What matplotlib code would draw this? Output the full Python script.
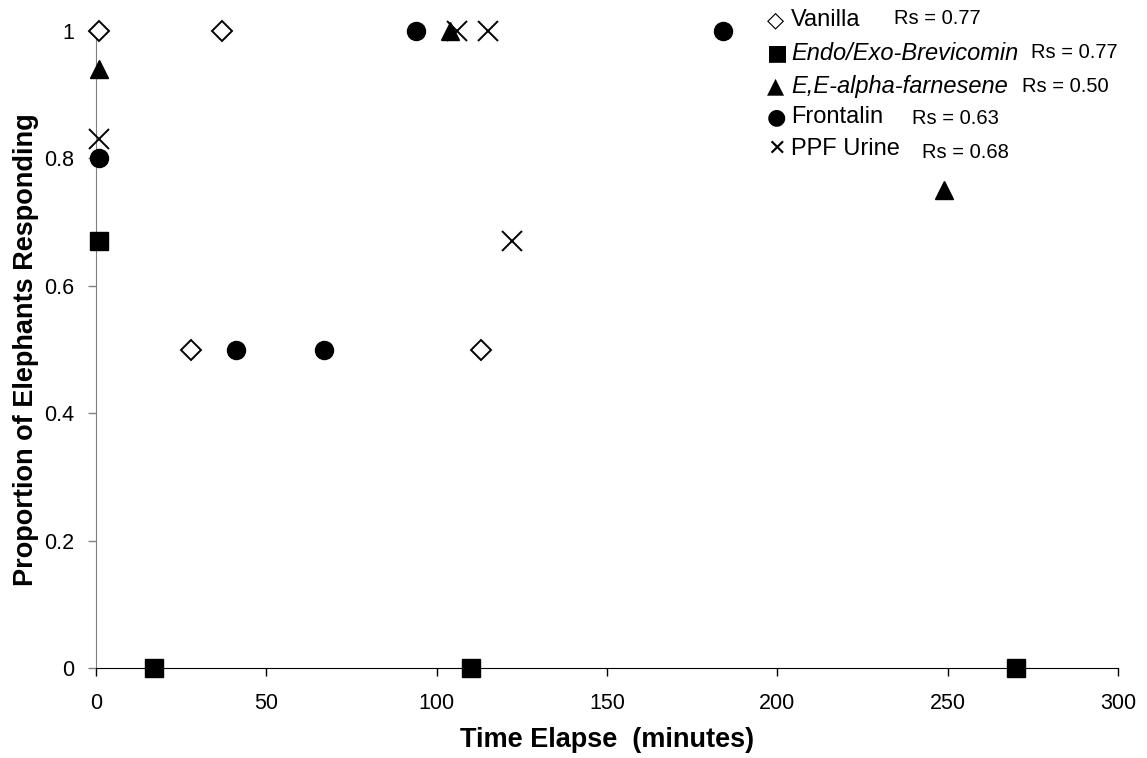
import matplotlib
matplotlib.use("Agg")
import matplotlib.pyplot as plt
from matplotlib.ticker import FuncFormatter

plt.rcParams['font.family'] = ['Liberation Sans', 'DejaVu Sans']

# data
vanilla_x = [1, 37, 28, 113]
vanilla_y = [1, 1, 0.5, 0.5]
endo_x = [1, 17, 110, 270]
endo_y = [0.67, 0, 0, 0]
farn_x = [1, 104, 249]
farn_y = [0.94, 1, 0.75]
front_x = [1, 41, 67, 94, 184]
front_y = [0.8, 0.5, 0.5, 1, 1]
ppf_x = [1, 106, 115, 122]
ppf_y = [0.83, 1, 1, 0.67]

names = ["Vanilla", "Endo/Exo-Brevicomin", "E,E-alpha-farnesene", "Frontalin", "PPF Urine"]
symbols = ["\u25c7", "\u25a0", "\u25b2", "\u25cf", "\u2715"]
italic = [False, True, True, False, False]
rs_vals = ["Rs = 0.77", "Rs = 0.77", "Rs = 0.50", "Rs = 0.63", "Rs = 0.68"]

fig = plt.figure(figsize=(11.47, 7.58), dpi=100)
ax = fig.add_axes([0.0837, 0.1187, 0.891, 0.8403])

kw = dict(linestyle='none', clip_on=False, zorder=3)
ax.plot(vanilla_x, vanilla_y, marker='D', ms=10, mfc='white', mec='black', mew=1.4, **kw)
ax.plot(endo_x, endo_y, marker='s', ms=13, color='black', **kw)
ax.plot(farn_x, farn_y, marker='^', ms=13.5, color='black', **kw)
ax.plot(front_x, front_y, marker='o', ms=13, color='black', **kw)
ax.plot(ppf_x, ppf_y, marker='x', ms=14, mew=1.4, color='black', **kw)

ax.set_xlim(0, 300)
ax.set_ylim(0, 1)
ax.set_xticks(range(0, 301, 50))
ax.set_yticks([0, 0.2, 0.4, 0.6, 0.8, 1])
ax.yaxis.set_major_formatter(FuncFormatter(lambda v, p: f"{v:g}"))
ax.tick_params(axis='both', labelsize=15.5, direction='out', length=6, width=1, colors='black')
ax.tick_params(axis='x', pad=12)
ax.tick_params(axis='y', pad=10, color='#808080')
ax.spines['top'].set_visible(False)
ax.spines['right'].set_visible(False)
ax.spines['left'].set_color('#808080')
ax.set_xlabel("Time Elapse  (minutes)", fontsize=19.5, fontweight='bold', labelpad=9)
ax.set_ylabel("Proportion of Elephants Responding", fontsize=19.5, fontweight='bold', labelpad=3)

# custom legend text box
row_y = [20, 53, 86, 117, 149]
rs_x = [894, 1031, 1022, 912, 922]
rs_y = [18, 52, 87, 119, 153]
for i in range(5):
    fig.text(767 / 1147, 1 - row_y[i] / 758, symbols[i], fontsize=16, va='center', ha='left',
             family='DejaVu Sans')
    fig.text(791 / 1147, 1 - row_y[i] / 758, names[i], fontsize=17, va='center', ha='left',
             style='italic' if italic[i] else 'normal')
    fig.text(rs_x[i] / 1147, 1 - rs_y[i] / 758, rs_vals[i], fontsize=14.5, va='center', ha='left')

fig.savefig("out.png", dpi=100)
